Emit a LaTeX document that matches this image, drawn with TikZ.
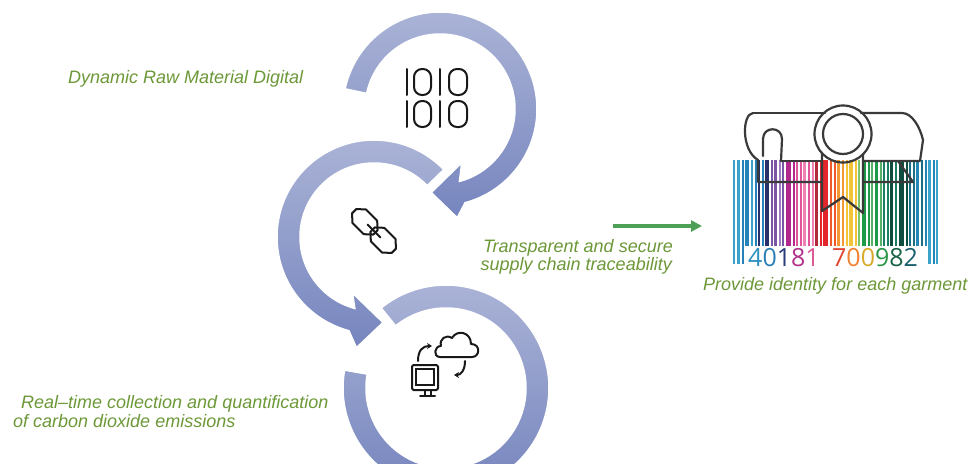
\documentclass[tikz,border=0pt]{standalone}
\usepackage{fontspec}
\newfontfamily\labelfont{Liberation Sans}
\newfontfamily\digitfont{Open Sans}
\usetikzlibrary{arrows.meta}

\definecolor{labelgreen}{RGB}{108,152,56}
\definecolor{ringtop}{RGB}{170,179,214}
\definecolor{ringbot}{RGB}{118,133,190}
\definecolor{arrowgreen}{RGB}{77,160,85}
\definecolor{iconline}{RGB}{25,25,25}
\definecolor{scrollline}{RGB}{58,58,58}
% barcode palette
\definecolor{bcA}{RGB}{59,163,201}
\definecolor{bcB}{RGB}{37,131,185}
\definecolor{bcC}{RGB}{39,48,107}
\definecolor{bcD}{RGB}{125,85,165}
\definecolor{bcE}{RGB}{160,124,197}
\definecolor{bcF}{RGB}{179,40,140}
\definecolor{bcG}{RGB}{224,85,151}
\definecolor{bcH}{RGB}{238,130,180}
\definecolor{bcI}{RGB}{176,42,58}
\definecolor{bcJ}{RGB}{227,38,43}
\definecolor{bcK}{RGB}{239,90,43}
\definecolor{bcL}{RGB}{243,154,53}
\definecolor{bcM}{RGB}{242,196,58}
\definecolor{bcN}{RGB}{124,196,106}
\definecolor{bcO}{RGB}{31,154,72}
\definecolor{bcP}{RGB}{86,176,106}
\definecolor{bcQ}{RGB}{26,127,99}
\definecolor{bcR}{RGB}{14,77,63}
\definecolor{bcS}{RGB}{27,111,133}
\definecolor{bcT}{RGB}{37,135,181}
% digit palette
\definecolor{dgA}{RGB}{43,143,191}
\definecolor{dgB}{RGB}{43,127,181}
\definecolor{dgC}{RGB}{39,58,122}
\definecolor{dgD}{RGB}{176,50,140}
\definecolor{dgE}{RGB}{218,90,150}
\definecolor{dgF}{RGB}{226,70,50}
\definecolor{dgG}{RGB}{240,130,50}
\definecolor{dgH}{RGB}{214,170,40}
\definecolor{dgI}{RGB}{40,150,70}
\definecolor{dgJ}{RGB}{25,100,70}
\definecolor{dgK}{RGB}{25,95,110}

\begin{document}
\begin{tikzpicture}[x=1pt,y=-1pt,
  caption/.style={font={\labelfont\itshape\fontsize{18}{18}\selectfont},
    text=labelgreen, inner sep=0pt, anchor=base west},
  ring/.style={top color=ringtop, bottom color=ringbot, draw=white, line width=1.5pt},
  iconstroke/.style={draw=iconline, line width=2pt, line cap=round, line join=round},
  scrollstroke/.style={draw=scrollline, line width=2.2pt, line cap=round, line join=round},
  bardigits/.style={font={\digitfont\fontsize{25}{25}\selectfont}, inner sep=0pt, anchor=base west},
]
\useasboundingbox[fill=white] (0,0) rectangle (971,463);
\clip (0,0) rectangle (971,463);

% ---------- ring 3 (cloud), plain open ring ----------
\shadedraw[ring]
  plot[domain=231:550, samples=120] ({446+103*cos(\x)},{388+103*sin(\x)})
  -- plot[domain=550:231, samples=120] ({446+80*cos(\x)},{388+80*sin(\x)})
  -- cycle;

% ---------- ring 2 (chain), counter-clockwise arrow ----------
\shadedraw[ring]
  plot[domain=316:105, samples=110] ({374+97*cos(\x)},{237+97*sin(\x)})
  -- ({374+112*cos(99)},{237+112*sin(99)})
  -- ({374+86*cos(84)},{237+86*sin(84)})
  -- ({374+60*cos(111)},{237+60*sin(111)})
  -- plot[domain=105:316, samples=110] ({374+74*cos(\x)},{237+74*sin(\x)})
  -- cycle;

% ---------- ring 1 (binary), clockwise arrow ----------
\shadedraw[ring]
  plot[domain=192:435, samples=110] ({440+97*cos(\x)},{109+97*sin(\x)})
  -- ({440+110*cos(441)},{109+110*sin(441)})
  -- ({440+84*cos(456)},{109+84*sin(456)})
  -- ({440+58*cos(428)},{109+58*sin(428)})
  -- plot[domain=435:192, samples=110] ({440+75*cos(\x)},{109+75*sin(\x)})
  -- cycle;

% ---------- binary icon ----------
\foreach \row in {0,32}{
  \draw[iconstroke] (407,69+\row) -- (407,95+\row);
  \draw[iconstroke, rounded corners=8] (414,69+\row) rectangle (431,95+\row);
  \draw[iconstroke] (440,69+\row) -- (440,95+\row);
  \draw[iconstroke, rounded corners=8] (449,69+\row) rectangle (467,95+\row);
}

% ---------- chain link icon ----------
\begin{scope}[shift={(374,231)}, rotate=-45]
  \foreach \c in {-13,13}{
    \draw[iconstroke]
      (\c-8,-9.5) -- (\c+8,-9.5) -- (\c+15,-3) -- (\c+15,3) -- (\c+8,9.5)
      -- (\c-8,9.5) -- (\c-15,3) -- (\c-15,-3) -- cycle;
  }
  \draw[iconstroke] (-9,0) -- (9,0);
\end{scope}

% ---------- computer / cloud icon ----------
\draw[iconstroke, rounded corners=1.5] (412,365) rectangle (438,390);
\draw[draw=iconline, line width=1.2pt] (416,369) rectangle (434,385);
\draw[iconstroke] (424.5,390) -- (424.5,395.5);
\draw[iconstroke] (430.5,390) -- (430.5,395.5);
\draw[iconstroke] (420,396) -- (435,396);
\draw[iconstroke]
  (440,357) -- (472,357)
  .. controls (480,357) and (481,344) .. (471,344)
  .. controls (471,332) and (457,329) .. (452,338)
  .. controls (446,334) and (439,339) .. (441,346)
  .. controls (434,346) and (433,357) .. (440,357);
\draw[iconstroke, -{Stealth[length=5,width=6]}]
  (418,361) .. controls (418,350) and (423,346) .. (432,346);
\draw[iconstroke, -{Stealth[length=5,width=6]}]
  (465,361) .. controls (465,370) and (461,375) .. (454,375);

% ---------- green connector ----------
\coordinate (flowstart) at (613,226);
\coordinate (flowend) at (702,226);
\draw[draw=arrowgreen, line width=3.3pt, -{Triangle[length=11,width=11]}]
  (flowstart) -- (flowend);

% ---------- barcode ----------
\foreach \bx/\bw/\bc in {
  733/2/bcA, 737/3/bcA, 742/1.5/bcB, 745/4/bcB, 751/2/bcA, 755/1.5/bcB,
  758/2/bcC, 762/1.5/bcB, 765/4/bcC, 771/1.5/bcD, 774/3/bcD, 779/1.5/bcE,
  782/2/bcD, 786/5/bcF, 793/1.5/bcF, 796/2/bcG, 800/1.5/bcG, 803/3/bcH,
  808/2/bcG, 812/1.5/bcH, 815/3/bcI, 820/1.5/bcJ, 823/5/bcJ, 830/2/bcK,
  834/1.5/bcK, 837/3/bcL, 842/2/bcL, 846/1.5/bcM, 849/4/bcM, 855/1.5/bcM,
  858/2/bcN, 862/4/bcO, 868/1.5/bcO, 871/2/bcP, 875/3/bcO, 880/1.5/bcP,
  883/2/bcQ, 887/1.5/bcQ, 890/3/bcR, 895/2/bcQ, 899/5/bcR, 906/1.5/bcR,
  909/2/bcS, 913/1.5/bcS, 916/3/bcT, 921/2/bcS, 925/1.5/bcT}
  \fill[\bc] (\bx,160) rectangle ({\bx+\bw},246);
% guard bars reaching below the digits
\foreach \bx/\bw/\bc in {733/2/bcA, 737/3/bcA, 742/1.5/bcB, 928/3/bcA, 933/2/bcT, 936/2/bcA}
  \fill[\bc] (\bx,160) rectangle ({\bx+\bw},264);

\node[bardigits] (code) at (748,266)
  {\textcolor{dgA}{4}\textcolor{dgB}{0}\textcolor{dgC}{1}\textcolor{dgD}{8}\textcolor{dgE}{1}\hspace{6pt}
   \textcolor{dgF}{7}\textcolor{dgG}{0}\textcolor{dgH}{0}\textcolor{dgI}{9}\textcolor{dgJ}{8}\textcolor{dgK}{2}};

% ---------- scroll with medal ----------
\draw[scrollstroke] (753,113) -- (825,113);
\draw[scrollstroke] (861,113) -- (902,113)
  .. controls (912,113) and (920,127) .. (923,140) -- (920,161) -- (863,161);
\draw[scrollstroke] (822,161) -- (781,161);
\draw[scrollstroke] (753,113) .. controls (742,114) and (741,150) .. (758,160)
  -- (758,182) -- (822,182);
\draw[scrollstroke] (763,156) -- (763,139) .. controls (763,126) and (782,126) .. (782,139) -- (781,161);
\draw[scrollstroke] (863,182) -- (913,182) -- (898,161);
\draw[scrollstroke] (843,134) circle[radius=28.5];
\draw[scrollstroke] (843,134) circle[radius=20];
\draw[scrollstroke] (822,153) -- (822,211) -- (843,197) -- (863,213) -- (863,154);

% ---------- captions ----------
\node[caption] (rawlabel) at (68,83) {Dynamic Raw Material Digital};
\node[caption, anchor=base east] (tracelabelA) at (673,252) {Transparent and secure};
\node[caption, anchor=base east] (tracelabelB) at (672,270) {supply chain traceability};
\node[caption] (idlabel) at (703,290) {Provide identity for each garment};
\node[caption] (carbonlabelA) at (21,408) {Real–time collection and quantification};
\node[caption] (carbonlabelB) at (13,427) {of carbon dioxide emissions};
\end{tikzpicture}
\end{document}
